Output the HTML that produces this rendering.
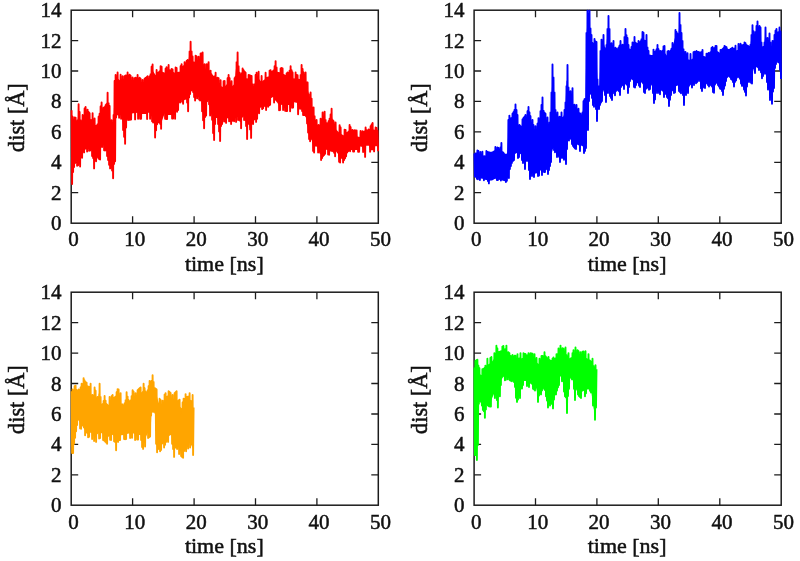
<!DOCTYPE html>
<html lang="en">
<head>
<meta charset="utf-8">
<title>dist vs time</title>
<style>
html,body{margin:0;padding:0;background:#fff;}
body{width:800px;height:561px;overflow:hidden;}
svg{display:block;}
svg text{font-family:"Liberation Serif","Times New Roman",serif;font-size:21px;fill:#111;stroke:#111;stroke-width:0.5px;}
svg text.ax{font-size:22px;}
</style>
</head>
<body>
<svg width="800" height="561" viewBox="0 0 800 561">
<rect width="800" height="561" fill="#fff"/>
<g>
<rect x="71.2" y="10.2" width="307.1" height="213.0" fill="none" stroke="#1c1c1c" stroke-width="1.5"/>
<path d="M71.2 192.7 h7.0 M378.3 192.7 h-7.0 M71.2 162.3 h7.0 M378.3 162.3 h-7.0 M71.2 131.9 h7.0 M378.3 131.9 h-7.0 M71.2 101.4 h7.0 M378.3 101.4 h-7.0 M71.2 71.0 h7.0 M378.3 71.0 h-7.0 M71.2 40.6 h7.0 M378.3 40.6 h-7.0 M132.6 223.2 v-7.0 M132.6 10.2 v7.0 M194.1 223.2 v-7.0 M194.1 10.2 v7.0 M255.5 223.2 v-7.0 M255.5 10.2 v7.0 M316.9 223.2 v-7.0 M316.9 10.2 v7.0" stroke="#1c1c1c" stroke-width="1.3" fill="none"/>
<text x="61.6" y="230.2" text-anchor="end">0</text>
<text x="61.6" y="199.7" text-anchor="end">2</text>
<text x="61.6" y="169.3" text-anchor="end">4</text>
<text x="61.6" y="138.9" text-anchor="end">6</text>
<text x="61.6" y="108.4" text-anchor="end">8</text>
<text x="61.6" y="78.0" text-anchor="end">10</text>
<text x="61.6" y="47.6" text-anchor="end">12</text>
<text x="61.6" y="17.2" text-anchor="end">14</text>
<text x="73.4" y="246.3" text-anchor="middle">0</text>
<text x="134.8" y="246.3" text-anchor="middle">10</text>
<text x="196.3" y="246.3" text-anchor="middle">20</text>
<text x="257.7" y="246.3" text-anchor="middle">30</text>
<text x="319.1" y="246.3" text-anchor="middle">40</text>
<text x="380.5" y="246.3" text-anchor="middle">50</text>
<text transform="translate(224.3 271.2) scale(1.0 1)" class="ax" text-anchor="middle">time [ns]</text>
<text transform="translate(24.1 117.6) rotate(-90) scale(1.06 1.12)" text-anchor="middle">dist [Å]</text>
<polygon points="71.6,113.2 72.6,121.0 73.6,123.0 74.6,123.4 75.6,124.3 76.6,125.8 77.6,120.3 78.6,111.3 79.6,118.2 80.6,126.0 81.6,123.0 82.6,120.0 83.6,117.0 84.6,114.0 85.6,113.6 86.6,114.6 87.6,115.6 88.6,117.5 89.6,119.2 90.6,119.2 91.6,119.2 92.6,120.2 93.6,122.2 94.6,124.2 95.6,127.9 96.6,131.4 97.6,126.4 98.6,121.3 99.6,115.9 100.6,110.6 101.6,109.7 102.6,111.7 103.6,113.7 104.6,112.4 105.6,110.1 106.6,103.1 107.6,101.4 108.6,108.9 109.6,115.1 110.6,120.5 111.6,125.8 112.6,123.6 113.6,117.7 114.6,91.5 115.6,80.4 116.6,79.4 117.6,78.6 118.6,79.3 119.6,80.1 120.6,80.8 121.6,81.6 122.6,82.2 123.6,81.4 124.6,80.7 125.6,79.9 126.6,79.2 127.6,78.6 128.6,79.6 129.6,80.6 130.6,81.6 131.6,82.6 132.6,83.4 133.6,82.9 134.6,82.4 135.6,81.9 136.6,81.4 137.6,81.1 138.6,82.1 139.6,83.1 140.6,84.1 141.6,85.1 142.6,85.9 143.6,85.2 144.6,84.4 145.6,83.7 146.6,82.9 147.6,82.0 148.6,79.7 149.6,77.3 150.6,75.0 151.6,72.6 152.6,70.6 153.6,72.1 154.6,73.6 155.6,75.0 156.6,75.6 157.6,74.6 158.6,73.6 159.6,72.6 160.6,72.6 161.6,73.1 162.6,73.6 163.6,74.1 164.6,74.6 165.6,74.1 166.6,73.1 167.6,72.1 168.6,71.1 169.6,71.3 170.6,71.7 171.6,72.1 172.6,72.5 173.6,72.9 174.6,73.3 175.6,73.4 176.6,73.1 177.6,72.9 178.6,72.7 179.6,72.4 180.6,71.7 181.6,70.7 182.6,69.7 183.6,68.7 184.6,67.8 185.6,67.2 186.6,66.5 187.6,65.2 188.6,59.5 189.6,52.7 190.6,50.0 191.6,56.4 192.6,63.4 193.6,67.0 194.6,64.0 195.6,61.7 196.6,62.1 197.6,62.5 198.6,62.1 199.6,60.6 200.6,59.3 201.6,58.7 202.6,62.1 203.6,68.2 204.6,78.5 205.6,82.1 206.6,71.4 207.6,69.3 208.6,68.3 209.6,72.4 210.6,77.4 211.6,80.5 212.6,81.4 213.6,80.4 214.6,79.4 215.6,79.4 216.6,81.3 217.6,83.2 218.6,84.5 219.6,85.4 220.6,86.2 221.6,86.5 222.6,86.9 223.6,87.2 224.6,86.5 225.6,85.5 226.6,84.5 227.6,83.0 228.6,81.1 229.6,83.1 230.6,85.6 231.6,87.0 232.6,86.0 233.6,85.0 234.6,82.9 235.6,72.2 236.6,62.5 237.6,65.6 238.6,74.1 239.6,77.9 240.6,77.2 241.6,75.2 242.6,75.3 243.6,76.6 244.6,78.0 245.6,79.0 246.6,79.7 247.6,80.4 248.6,80.9 249.6,81.3 250.6,81.6 251.6,82.0 252.6,87.5 253.6,93.0 254.6,87.5 255.6,80.5 256.6,78.4 257.6,77.9 258.6,78.5 259.6,79.8 260.6,81.1 261.6,81.6 262.6,80.9 263.6,80.1 264.6,79.4 265.6,78.7 266.6,78.2 267.6,77.7 268.6,77.2 269.6,76.7 270.6,75.7 271.6,74.7 272.6,73.7 273.6,72.7 274.6,72.6 275.6,73.1 276.6,73.5 277.6,73.8 278.6,74.1 279.6,74.4 280.6,74.8 281.6,75.3 282.6,75.9 283.6,76.4 284.6,76.9 285.6,77.5 286.6,78.0 287.6,78.2 288.6,75.7 289.6,73.2 290.6,73.8 291.6,76.3 292.6,78.5 293.6,78.5 294.6,78.5 295.6,78.8 296.6,79.3 297.6,79.8 298.6,80.3 299.6,80.8 300.6,77.6 301.6,71.9 302.6,74.6 303.6,78.5 304.6,78.5 305.6,80.9 306.6,84.9 307.6,88.9 308.6,92.9 309.6,96.9 310.6,100.9 311.6,104.9 312.6,108.9 313.6,112.9 314.6,117.8 315.6,122.8 316.6,126.7 317.6,128.7 318.6,130.7 319.6,128.2 320.6,124.8 321.6,121.5 322.6,118.8 323.6,121.8 324.6,124.8 325.6,126.2 326.6,126.5 327.6,126.9 328.6,127.2 329.6,123.7 330.6,119.5 331.6,115.4 332.6,120.1 333.6,126.3 334.6,128.1 335.6,129.1 336.6,130.1 337.6,131.1 338.6,132.1 339.6,133.1 340.6,133.8 341.6,134.3 342.6,134.8 343.6,135.3 344.6,135.8 345.6,135.3 346.6,134.1 347.6,132.9 348.6,131.8 349.6,131.5 350.6,133.1 351.6,134.6 352.6,136.0 353.6,136.1 354.6,136.3 355.6,136.4 356.6,136.5 357.6,136.6 358.6,136.8 359.6,136.9 360.6,137.0 361.6,137.1 362.6,137.1 363.6,135.6 364.6,134.1 365.6,133.8 366.6,134.4 367.6,134.9 368.6,135.4 369.6,134.0 370.6,132.3 371.6,130.6 372.6,129.2 373.6,131.0 374.6,132.8 375.6,133.7 376.6,134.1 377.6,134.4 378.1,145.3 377.1,145.3 376.1,145.4 375.1,145.4 374.1,145.5 373.1,145.5 372.1,145.6 371.1,145.6 370.1,145.6 369.1,145.7 368.1,145.7 367.1,145.8 366.1,145.8 365.1,145.9 364.1,145.9 363.1,146.0 362.1,146.0 361.1,145.9 360.1,145.9 359.1,145.8 358.1,145.7 357.1,145.7 356.1,145.6 355.1,145.6 354.1,145.5 353.1,145.4 352.1,145.4 351.1,145.3 350.1,145.3 349.1,146.4 348.1,147.8 347.1,149.1 346.1,150.5 345.1,152.2 344.1,153.8 343.1,155.5 342.1,156.5 341.1,156.5 340.1,156.5 339.1,155.4 338.1,154.1 337.1,152.9 336.1,151.6 335.1,150.4 334.1,150.0 333.1,149.8 332.1,149.5 331.1,149.3 330.1,149.0 329.1,148.8 328.1,148.5 327.1,148.3 326.1,148.0 325.1,147.8 324.1,148.6 323.1,150.3 322.1,152.3 321.1,153.7 320.1,151.7 319.1,149.7 318.1,147.7 317.1,146.5 316.1,146.5 315.1,146.5 314.1,146.5 313.1,144.6 312.1,141.6 311.1,138.6 310.1,135.6 309.1,132.1 308.1,128.6 307.1,123.7 306.1,116.7 305.1,109.7 304.1,109.0 303.1,109.0 302.1,108.0 301.1,105.5 300.1,103.0 299.1,102.6 298.1,102.4 297.1,102.3 296.1,102.1 295.1,101.9 294.1,101.8 293.1,101.6 292.1,102.1 291.1,103.6 290.1,105.1 289.1,105.1 288.1,104.9 287.1,104.8 286.1,104.6 285.1,104.4 284.1,104.3 283.1,104.1 282.1,104.0 281.1,104.1 280.1,104.1 279.1,103.0 278.1,101.8 277.1,100.5 276.1,99.3 275.1,98.0 274.1,96.8 273.1,97.1 272.1,97.6 271.1,98.1 270.1,98.6 269.1,99.6 268.1,100.8 267.1,102.1 266.1,103.3 265.1,104.0 264.1,103.7 263.1,103.3 262.1,103.3 261.1,104.6 260.1,105.9 259.1,107.3 258.1,109.9 257.1,112.6 256.1,115.2 255.1,116.4 254.1,117.1 253.1,117.7 252.1,121.6 251.1,128.1 250.1,129.2 249.1,122.7 248.1,120.8 247.1,130.8 246.1,124.2 245.1,113.6 244.1,111.6 243.1,109.6 242.1,115.1 241.1,121.1 240.1,119.1 239.1,115.1 238.1,114.2 237.1,114.9 236.1,115.5 235.1,116.1 234.1,116.6 233.1,117.1 232.1,117.6 231.1,118.0 230.1,117.8 229.1,117.6 228.1,117.4 227.1,117.2 226.1,117.0 225.1,117.2 224.1,117.4 223.1,117.7 222.1,117.9 221.1,124.5 220.1,134.5 219.1,126.5 218.1,118.5 217.1,118.0 216.1,118.0 215.1,119.5 214.1,128.9 213.1,128.0 212.1,114.4 211.1,111.8 210.1,109.8 209.1,103.0 208.1,95.0 207.1,97.8 206.1,105.8 205.1,113.5 204.1,121.0 203.1,114.9 202.1,106.0 201.1,99.5 200.1,94.4 199.1,93.7 198.1,93.0 197.1,92.4 196.1,93.4 195.1,94.4 194.1,91.1 193.1,87.1 192.1,86.4 191.1,87.1 190.1,87.8 189.1,94.0 188.1,105.1 187.1,100.1 186.1,96.8 185.1,97.1 184.1,97.4 183.1,97.7 182.1,97.3 181.1,97.0 180.1,96.7 179.1,99.3 178.1,102.2 177.1,105.4 176.1,108.9 175.1,112.4 174.1,112.8 173.1,112.8 172.1,112.8 171.1,112.8 170.1,112.8 169.1,112.8 168.1,112.8 167.1,112.8 166.1,112.8 165.1,112.8 164.1,115.1 163.1,117.8 162.1,120.5 161.1,122.5 160.1,120.8 159.1,119.2 158.1,117.5 157.1,118.9 156.1,124.9 155.1,130.9 154.1,124.8 153.1,117.3 152.1,115.4 151.1,114.1 150.1,112.9 149.1,112.8 148.1,112.8 147.1,112.8 146.1,112.8 145.1,112.8 144.1,112.8 143.1,112.8 142.1,112.8 141.1,112.8 140.1,112.8 139.1,112.8 138.1,112.8 137.1,112.8 136.1,112.9 135.1,113.0 134.1,113.2 133.1,113.3 132.1,113.4 131.1,113.5 130.1,113.7 129.1,113.8 128.1,113.9 127.1,117.8 126.1,127.3 125.1,136.8 124.1,131.8 123.1,125.1 122.1,118.4 121.1,112.7 120.1,112.5 119.1,112.2 118.1,112.0 117.1,111.7 116.1,113.4 115.1,134.4 114.1,157.8 113.1,167.3 112.1,170.5 111.1,166.8 110.1,163.1 109.1,158.6 108.1,154.0 107.1,149.7 106.1,147.7 105.1,145.7 104.1,144.0 103.1,142.7 102.1,141.3 101.1,146.6 100.1,153.5 99.1,152.8 98.1,152.2 97.1,152.4 96.1,154.4 95.1,157.5 94.1,161.5 93.1,157.1 92.1,150.1 91.1,148.0 90.1,146.0 89.1,144.7 88.1,145.0 87.1,145.4 86.1,145.7 85.1,146.0 84.1,146.4 83.1,148.3 82.1,150.3 81.1,153.2 80.1,158.2 79.1,160.5 78.1,160.1 77.1,159.8 76.1,158.9 75.1,157.8 74.1,159.5 73.1,167.0 72.1,178.1" fill="#ff0000"/>
<path d="M71.6 110.2 L72.1 184.1 L72.6 116.7 L73.1 172.0 L73.6 120.0 L74.1 167.0 L74.6 117.5 L75.1 163.1 L75.6 117.6 L76.1 145.2 L76.6 125.4 L77.1 165.8 L77.6 120.3 L78.1 165.2 L78.6 104.3 L79.1 163.5 L79.6 112.0 L80.1 166.6 L80.6 120.3 L81.1 156.2 L81.6 122.6 L82.1 157.7 L82.6 115.0 L83.1 150.7 L83.6 116.6 L84.1 152.4 L84.6 108.4 L85.1 148.8 L85.6 106.9 L86.1 148.4 L86.6 121.7 L87.1 151.5 L87.6 109.6 L88.1 147.8 L88.6 112.0 L89.1 150.7 L89.6 113.2 L90.1 150.6 L90.6 120.3 L91.1 149.0 L91.6 120.3 L92.1 156.0 L92.6 113.2 L93.1 158.0 L93.6 123.4 L94.1 168.4 L94.6 118.5 L95.1 159.0 L95.6 125.7 L96.1 161.3 L96.6 125.7 L97.1 154.0 L97.6 124.2 L98.1 157.7 L98.6 116.7 L99.1 159.0 L99.6 113.8 L100.1 159.5 L100.6 106.4 L101.1 144.0 L101.6 102.5 L102.1 147.0 L102.6 115.4 L103.1 140.1 L103.6 107.8 L104.1 150.3 L104.6 107.3 L105.1 150.6 L105.6 105.2 L106.1 150.1 L106.6 104.0 L107.1 156.0 L107.6 92.7 L108.1 160.1 L108.6 103.2 L109.1 164.8 L109.6 106.0 L110.1 168.4 L110.6 121.6 L111.1 166.8 L111.6 120.3 L112.1 170.5 L112.6 124.7 L113.1 178.2 L113.6 115.0 L114.1 163.9 L114.6 81.0 L115.1 161.3 L115.6 75.0 L116.1 117.5 L116.6 84.9 L117.1 114.4 L117.6 72.5 L118.1 114.6 L118.6 84.8 L119.1 117.7 L119.6 85.5 L120.1 106.0 L120.6 74.7 L121.1 118.8 L121.6 80.5 L122.1 111.9 L122.6 76.2 L123.1 130.0 L123.6 80.4 L124.1 136.7 L124.6 76.2 L125.1 143.8 L125.6 75.4 L126.1 127.5 L126.6 75.7 L127.1 118.0 L127.6 72.5 L128.1 120.0 L128.6 76.1 L129.1 119.8 L129.6 74.7 L130.1 119.7 L130.6 75.7 L131.1 119.5 L131.6 82.3 L132.1 109.2 L132.6 77.5 L133.1 109.1 L133.6 82.6 L134.1 109.0 L134.6 78.3 L135.1 119.4 L135.6 77.8 L136.1 110.0 L136.6 78.6 L137.1 109.8 L137.6 75.0 L138.1 118.8 L138.6 79.3 L139.1 109.8 L139.6 77.7 L140.1 118.7 L140.6 78.7 L141.1 118.7 L141.6 87.1 L142.1 113.0 L142.6 80.0 L143.1 113.0 L143.6 87.2 L144.1 113.0 L144.6 78.7 L145.1 113.0 L145.6 78.0 L146.1 113.0 L146.6 77.2 L147.1 119.0 L147.6 76.2 L148.1 108.8 L148.6 78.9 L149.1 108.8 L149.6 76.5 L150.1 118.8 L150.6 74.2 L151.1 110.2 L151.6 66.7 L152.1 121.3 L152.6 64.5 L153.1 122.5 L153.6 78.1 L154.1 118.2 L154.6 79.6 L155.1 137.5 L155.6 81.0 L156.1 130.2 L156.6 70.0 L157.1 124.2 L157.6 73.5 L158.1 122.5 L158.6 72.5 L159.1 122.1 L159.6 71.5 L160.1 123.8 L160.6 66.2 L161.1 128.8 L161.6 66.7 L162.1 115.8 L162.6 72.8 L163.1 113.2 L163.6 73.3 L164.1 110.5 L164.6 73.8 L165.1 118.8 L165.6 68.8 L166.1 119.1 L166.6 67.1 L167.1 119.1 L167.6 71.2 L168.1 114.1 L168.6 65.0 L169.1 114.1 L169.6 70.3 L170.1 114.1 L170.6 70.7 L171.1 114.1 L171.6 69.0 L172.1 118.6 L172.6 69.4 L173.1 118.6 L173.6 73.3 L174.1 102.6 L174.6 73.7 L175.1 118.8 L175.6 67.5 L176.1 98.8 L176.6 68.0 L177.1 111.7 L177.6 72.9 L178.1 110.0 L178.6 72.7 L179.1 100.8 L179.6 72.4 L180.1 102.6 L180.6 66.3 L181.1 98.5 L181.6 64.2 L182.1 101.8 L182.6 67.2 L183.1 103.7 L183.6 66.2 L184.1 99.2 L184.6 62.1 L185.1 98.9 L185.6 64.6 L186.1 98.5 L186.6 61.0 L187.1 102.6 L187.6 59.9 L188.1 111.2 L188.6 65.5 L189.1 97.4 L189.6 51.4 L190.1 94.1 L190.6 41.8 L191.1 90.5 L191.6 51.4 L192.1 89.8 L192.6 56.5 L193.1 92.0 L193.6 62.1 L194.1 97.0 L194.6 63.5 L195.1 100.5 L195.6 55.6 L196.1 95.8 L196.6 56.4 L197.1 98.4 L197.6 64.4 L198.1 95.5 L198.6 56.7 L199.1 99.6 L199.6 62.5 L200.1 100.5 L200.6 53.5 L201.1 94.5 L201.6 53.5 L202.1 111.2 L202.6 52.4 L203.1 120.2 L203.6 68.7 L204.1 128.3 L204.6 64.2 L205.1 117.0 L205.6 80.2 L206.1 115.5 L206.6 64.2 L207.1 101.3 L207.6 64.7 L208.1 98.4 L208.6 62.1 L209.1 104.3 L209.6 73.4 L210.1 115.5 L210.6 70.6 L211.1 113.2 L211.6 74.5 L212.1 119.7 L212.6 75.9 L213.1 133.1 L213.6 77.5 L214.1 140.0 L214.6 76.5 L215.1 124.0 L215.6 72.7 L216.1 115.7 L216.6 78.5 L217.1 115.7 L217.6 77.8 L218.1 124.0 L218.6 78.1 L219.1 131.4 L219.6 86.2 L220.1 141.1 L220.6 80.2 L221.1 126.0 L221.6 87.4 L222.1 124.0 L222.6 87.7 L223.1 119.2 L223.6 81.3 L224.1 121.6 L224.6 80.9 L225.1 121.3 L225.6 90.0 L226.1 122.9 L226.6 89.0 L227.1 117.4 L227.6 78.1 L228.1 117.6 L228.6 74.9 L229.1 121.3 L229.6 78.1 L230.1 121.0 L230.6 86.9 L231.1 124.0 L231.6 81.3 L232.1 120.9 L232.6 87.3 L233.1 120.4 L233.6 86.3 L234.1 121.3 L234.6 78.1 L235.1 117.2 L235.6 76.6 L236.1 121.9 L236.6 62.1 L237.1 116.0 L237.6 52.4 L238.1 120.0 L238.6 66.3 L239.1 119.7 L239.6 72.7 L240.1 120.7 L240.6 75.5 L241.1 128.3 L241.6 73.5 L242.1 116.7 L242.6 68.5 L243.1 115.5 L243.6 70.3 L244.1 120.0 L244.6 71.6 L245.1 119.7 L245.6 72.7 L246.1 126.1 L246.6 79.1 L247.1 139.0 L247.6 79.7 L248.1 122.7 L248.6 74.9 L249.1 124.0 L249.6 75.3 L250.1 129.4 L250.6 75.6 L251.1 137.9 L251.6 75.9 L252.1 121.7 L252.6 84.1 L253.1 124.0 L253.6 87.7 L254.1 119.5 L254.6 84.1 L255.1 118.9 L255.6 74.9 L256.1 121.9 L256.6 72.7 L257.1 118.7 L257.6 82.7 L258.1 110.8 L258.6 71.7 L259.1 113.3 L259.6 84.7 L260.1 106.9 L260.6 86.0 L261.1 105.7 L261.6 75.9 L262.1 109.1 L262.6 91.3 L263.1 108.2 L263.6 91.0 L264.1 105.7 L264.6 90.6 L265.1 106.0 L265.6 72.7 L266.1 110.1 L266.6 78.3 L267.1 104.1 L267.6 77.8 L268.1 106.7 L268.6 77.1 L269.1 105.4 L269.6 70.6 L270.1 104.8 L270.6 70.3 L271.1 96.5 L271.6 72.4 L272.1 95.9 L272.6 71.4 L273.1 95.3 L273.6 70.5 L274.1 102.6 L274.6 66.3 L275.1 98.8 L275.6 61.1 L276.1 100.1 L276.6 67.4 L277.1 101.3 L277.6 72.7 L278.1 102.6 L278.6 73.0 L279.1 110.2 L279.6 73.3 L280.1 110.1 L280.6 68.5 L281.1 104.0 L281.6 68.0 L282.1 103.9 L282.6 68.5 L283.1 110.0 L283.6 74.9 L284.1 104.2 L284.6 75.4 L285.1 110.8 L285.6 75.9 L286.1 111.0 L286.6 73.4 L287.1 111.1 L287.6 72.5 L288.1 101.9 L288.6 73.1 L289.1 102.1 L289.6 70.6 L290.1 111.2 L290.6 66.2 L291.1 100.6 L291.6 70.3 L292.1 107.8 L292.6 72.5 L293.1 107.5 L293.6 79.4 L294.1 101.3 L294.6 79.4 L295.1 101.5 L295.6 72.5 L296.1 101.7 L296.6 74.9 L297.1 101.9 L297.6 75.3 L298.1 114.2 L298.6 79.8 L299.1 105.9 L299.6 80.2 L300.1 108.8 L300.6 75.0 L301.1 108.6 L301.6 65.0 L302.1 111.1 L302.6 68.9 L303.1 115.0 L303.6 72.5 L304.1 115.0 L304.6 75.7 L305.1 115.0 L305.6 72.5 L306.1 116.4 L306.6 82.1 L307.1 123.4 L307.6 82.5 L308.1 132.5 L308.6 94.1 L309.1 139.0 L309.6 98.1 L310.1 141.2 L310.6 92.5 L311.1 136.1 L311.6 98.6 L312.1 139.1 L312.6 107.4 L313.1 150.9 L313.6 107.5 L314.1 152.5 L314.6 116.2 L315.1 144.4 L315.6 121.2 L316.1 145.1 L316.6 120.0 L317.1 145.6 L317.6 127.5 L318.1 152.5 L318.6 125.0 L319.1 151.3 L319.6 127.7 L320.1 152.7 L320.6 118.6 L321.1 160.0 L321.6 122.2 L322.1 158.1 L322.6 112.5 L323.1 156.1 L323.6 122.5 L324.1 155.0 L324.6 111.6 L325.1 153.8 L325.6 120.0 L326.1 148.9 L326.6 123.2 L327.1 149.1 L327.6 123.5 L328.1 154.4 L328.6 121.2 L329.1 154.7 L329.6 118.6 L330.1 150.4 L330.6 114.4 L331.1 150.7 L331.6 108.8 L332.1 150.9 L332.6 119.9 L333.1 151.2 L333.6 121.2 L334.1 152.8 L334.6 127.6 L335.1 156.2 L335.6 122.5 L336.1 148.9 L336.6 136.2 L337.1 150.1 L337.6 137.2 L338.1 151.3 L338.6 138.3 L339.1 161.7 L339.6 125.1 L340.1 162.5 L340.6 127.5 L341.1 157.8 L341.6 139.6 L342.1 157.9 L342.6 139.9 L343.1 162.5 L343.6 139.7 L344.1 160.0 L344.6 129.6 L345.1 158.3 L345.6 130.0 L346.1 156.2 L346.6 133.8 L347.1 152.5 L347.6 132.6 L348.1 151.2 L348.6 131.4 L349.1 149.9 L349.6 125.0 L350.1 151.2 L350.6 127.1 L351.1 149.1 L351.6 130.4 L352.1 149.3 L352.6 130.0 L353.1 151.5 L353.6 131.8 L354.1 151.6 L354.6 130.3 L355.1 149.0 L355.6 130.4 L356.1 149.1 L356.6 130.5 L357.1 149.1 L357.6 138.4 L358.1 151.7 L358.6 138.5 L359.1 151.8 L359.6 138.6 L360.1 145.6 L360.6 130.9 L361.1 145.7 L361.6 134.0 L362.1 145.8 L362.6 131.2 L363.1 152.0 L363.6 132.7 L364.1 145.0 L364.6 131.4 L365.1 156.9 L365.6 127.5 L366.1 141.4 L366.6 130.3 L367.1 141.6 L367.6 130.8 L368.1 141.8 L368.6 129.5 L369.1 141.7 L369.6 130.0 L370.1 151.7 L370.6 126.2 L371.1 149.4 L371.6 124.4 L372.1 149.2 L372.6 123.0 L373.1 149.2 L373.6 130.2 L374.1 151.4 L374.6 131.7 L375.1 145.3 L375.6 127.5 L376.1 145.3 L376.6 127.9 L377.1 145.4 L377.6 130.8 L378.1 151.3" fill="none" stroke="#ff0000" stroke-width="1.9" stroke-linejoin="round"/>
</g>
<g>
<rect x="474.1" y="10.2" width="307.1" height="213.0" fill="none" stroke="#1c1c1c" stroke-width="1.5"/>
<path d="M474.1 192.7 h7.0 M781.2 192.7 h-7.0 M474.1 162.3 h7.0 M781.2 162.3 h-7.0 M474.1 131.9 h7.0 M781.2 131.9 h-7.0 M474.1 101.4 h7.0 M781.2 101.4 h-7.0 M474.1 71.0 h7.0 M781.2 71.0 h-7.0 M474.1 40.6 h7.0 M781.2 40.6 h-7.0 M535.5 223.2 v-7.0 M535.5 10.2 v7.0 M596.9 223.2 v-7.0 M596.9 10.2 v7.0 M658.3 223.2 v-7.0 M658.3 10.2 v7.0 M719.8 223.2 v-7.0 M719.8 10.2 v7.0" stroke="#1c1c1c" stroke-width="1.3" fill="none"/>
<text x="464.4" y="230.2" text-anchor="end">0</text>
<text x="464.4" y="199.7" text-anchor="end">2</text>
<text x="464.4" y="169.3" text-anchor="end">4</text>
<text x="464.4" y="138.9" text-anchor="end">6</text>
<text x="464.4" y="108.4" text-anchor="end">8</text>
<text x="464.4" y="78.0" text-anchor="end">10</text>
<text x="464.4" y="47.6" text-anchor="end">12</text>
<text x="464.4" y="17.2" text-anchor="end">14</text>
<text x="476.2" y="246.3" text-anchor="middle">0</text>
<text x="537.7" y="246.3" text-anchor="middle">10</text>
<text x="599.1" y="246.3" text-anchor="middle">20</text>
<text x="660.5" y="246.3" text-anchor="middle">30</text>
<text x="722.0" y="246.3" text-anchor="middle">40</text>
<text x="783.4" y="246.3" text-anchor="middle">50</text>
<text transform="translate(627.1 271.2) scale(1.0 1)" class="ax" text-anchor="middle">time [ns]</text>
<text transform="translate(426.9 117.6) rotate(-90) scale(1.06 1.12)" text-anchor="middle">dist [Å]</text>
<polygon points="474.4,157.0 475.4,157.0 476.4,157.0 477.4,157.0 478.4,157.2 479.4,157.7 480.4,157.9 481.4,157.8 482.4,157.6 483.4,157.4 484.4,157.3 485.4,157.1 486.4,157.1 487.4,157.2 488.4,157.3 489.4,157.5 490.4,157.6 491.4,157.8 492.4,157.9 493.4,156.9 494.4,154.4 495.4,153.2 496.4,153.5 497.4,153.8 498.4,154.6 499.4,155.8 500.4,151.8 501.4,151.9 502.4,158.0 503.4,158.5 504.4,158.9 505.4,159.3 506.4,159.8 507.4,150.4 508.4,129.2 509.4,121.6 510.4,121.0 511.4,120.4 512.5,119.8 513.5,116.9 514.5,112.8 515.5,112.4 516.5,117.0 517.5,122.3 518.5,129.0 519.5,131.5 520.5,132.1 521.5,129.2 522.5,125.6 523.5,124.0 524.5,122.6 525.5,121.2 526.5,118.5 527.5,115.2 528.5,114.3 529.5,119.0 530.5,123.2 531.5,125.2 532.5,128.3 533.5,131.2 534.5,131.7 535.5,132.2 536.5,131.1 537.5,129.8 538.5,124.5 539.5,118.9 540.5,113.4 541.5,106.7 542.5,108.4 543.5,116.8 544.5,118.7 545.5,120.4 546.5,121.9 547.5,123.4 548.5,126.0 549.5,127.9 550.5,119.9 551.5,99.6 552.5,71.7 553.5,87.5 554.5,109.0 555.5,116.8 556.5,118.0 557.5,119.4 558.5,121.0 559.5,122.6 560.5,121.7 561.5,118.3 562.5,117.3 563.5,116.3 564.5,112.5 565.5,104.2 566.5,81.3 567.5,79.2 568.5,92.8 569.5,98.4 570.5,97.4 571.5,95.2 572.5,100.3 573.5,110.5 574.5,111.0 575.5,111.0 576.5,111.4 577.5,113.4 578.5,115.6 579.5,118.3 580.5,119.4 581.5,118.8 582.5,113.3 583.5,106.8 584.5,105.5 585.5,99.1 586.5,37.6 587.5,16.6 588.5,16.6 589.5,20.0 590.5,33.5 591.5,41.5 592.5,42.7 593.5,43.9 594.5,45.1 595.5,46.6 596.5,51.1 597.5,85.4 598.5,85.4 599.5,85.4 600.5,56.7 601.5,50.5 602.5,44.4 603.5,42.5 604.5,45.8 605.5,49.2 606.5,45.0 607.5,30.9 608.5,27.9 609.5,42.2 610.5,50.4 611.5,49.1 612.5,47.7 613.5,48.2 614.5,50.9 615.5,53.5 616.5,54.1 617.5,52.1 618.5,50.1 619.5,48.1 620.5,47.6 621.5,48.9 622.5,50.3 623.5,48.7 624.5,43.7 625.5,36.2 626.5,41.4 627.5,47.8 628.5,51.3 629.5,52.0 630.5,52.6 631.5,51.5 632.5,48.2 633.5,44.8 634.5,43.5 635.5,44.5 636.5,45.5 637.5,46.5 638.5,46.0 639.5,43.7 640.5,41.5 641.5,39.2 642.5,38.3 643.5,39.1 644.5,39.8 645.5,40.6 646.5,44.6 647.5,52.6 648.5,57.1 649.5,57.2 650.5,57.4 651.5,57.6 652.5,57.7 653.5,57.9 654.5,57.1 655.5,55.0 656.5,53.0 657.5,51.1 658.5,53.4 659.5,55.7 660.5,56.4 661.5,55.2 662.5,53.9 663.5,52.7 664.5,52.6 665.5,53.8 666.5,55.1 667.5,56.3 668.5,56.1 669.5,54.1 670.5,52.1 671.5,50.1 672.5,47.3 673.5,43.5 674.5,39.6 675.5,36.1 676.5,38.0 677.5,39.9 678.5,34.2 679.5,20.9 680.5,29.2 681.5,40.7 682.5,48.7 683.5,52.3 684.5,56.0 685.5,58.2 686.5,58.6 687.5,59.0 688.5,59.4 689.5,59.8 690.5,59.8 691.5,59.3 692.5,58.8 693.5,58.3 694.5,57.8 695.5,57.3 696.5,56.9 697.5,56.8 698.5,56.6 699.5,56.4 700.5,56.3 701.5,56.1 702.5,56.2 703.5,56.7 704.5,57.2 705.5,57.7 706.5,58.2 707.5,58.7 708.5,58.3 709.5,56.8 710.5,55.3 711.5,53.8 712.5,52.9 713.5,52.6 714.5,52.4 715.5,52.1 716.5,52.5 717.5,53.5 718.5,54.5 719.5,55.5 720.5,55.5 721.5,54.5 722.5,53.5 723.5,52.5 724.5,52.2 725.5,52.7 726.5,53.2 727.5,53.7 728.5,54.2 729.5,54.7 730.5,54.8 731.5,54.3 732.5,53.8 733.5,53.2 734.5,52.5 735.5,51.9 736.5,51.3 737.5,50.7 738.5,50.0 739.5,49.8 740.5,49.5 741.5,49.3 742.5,49.0 743.5,48.8 744.5,48.5 745.5,48.9 746.5,49.3 747.5,49.8 748.5,50.2 749.5,50.6 750.5,44.2 751.5,35.7 752.5,33.1 753.5,37.1 754.5,37.7 755.5,36.2 756.5,32.2 757.5,27.9 758.5,30.5 759.5,32.6 760.5,36.0 761.5,48.5 762.5,54.2 763.5,49.7 764.5,42.2 765.5,33.9 766.5,41.8 767.5,50.4 768.5,47.0 769.5,40.1 770.5,47.2 771.5,54.2 772.5,47.7 773.5,42.5 774.5,39.1 775.5,36.5 776.5,34.8 777.5,34.3 778.5,33.8 779.5,34.8 780.5,37.8 781.0,73.0 780.0,69.0 779.0,61.6 778.0,56.7 777.0,57.4 776.0,58.5 775.0,69.2 774.0,79.9 773.0,87.6 772.0,94.6 771.0,96.8 770.0,95.2 769.0,91.6 768.0,83.6 767.0,75.8 766.0,72.2 765.0,68.5 764.0,68.9 763.0,70.4 762.0,71.9 761.0,70.1 760.0,67.3 759.0,64.6 758.0,62.7 757.0,61.0 756.0,61.9 755.0,64.9 754.0,68.0 753.0,71.5 752.0,75.0 751.0,77.4 750.0,76.9 749.0,76.4 748.0,76.9 747.0,79.9 746.0,85.3 745.0,88.3 744.0,84.3 743.0,81.9 742.0,79.9 741.0,77.9 740.0,76.2 739.0,74.6 738.0,73.0 737.0,71.6 736.0,74.6 735.0,77.6 734.0,80.4 733.0,77.9 732.0,75.4 731.0,72.9 730.0,71.0 729.0,72.0 728.0,73.0 727.0,74.0 726.0,75.2 725.0,79.9 724.0,84.6 723.0,88.9 722.0,86.9 721.0,84.9 720.0,82.9 719.0,80.9 718.0,79.1 717.0,80.5 716.0,81.9 715.0,83.3 714.0,84.7 713.0,85.9 712.0,84.5 711.0,83.1 710.0,81.7 709.0,80.3 708.0,79.0 707.0,80.0 706.0,81.0 705.0,82.0 704.0,83.0 703.0,84.0 702.0,84.9 701.0,82.4 700.0,79.9 699.0,77.4 698.0,75.0 697.0,76.0 696.0,77.0 695.0,78.0 694.0,79.1 693.0,80.4 692.0,81.7 691.0,83.1 690.0,84.4 689.0,85.7 688.0,87.0 687.0,87.9 686.0,88.7 685.0,93.1 684.0,98.7 683.0,92.4 682.0,88.5 681.0,87.3 680.0,86.1 679.0,85.0 678.0,85.4 677.0,85.8 676.0,86.2 675.0,86.6 674.0,87.0 673.0,87.7 672.0,88.4 671.0,89.3 670.0,94.8 669.0,99.8 668.0,95.3 667.0,91.0 666.0,91.0 665.0,91.0 664.0,91.0 663.0,90.3 662.0,89.6 661.0,89.0 660.0,88.3 659.0,87.6 658.0,87.0 657.0,87.0 656.0,87.0 655.0,91.1 654.0,96.7 653.0,90.4 652.0,86.3 651.0,84.6 650.0,83.0 649.0,83.8 648.0,84.6 647.0,85.4 646.0,86.2 645.0,86.9 644.0,85.7 643.0,84.5 642.0,83.3 641.0,82.1 640.0,81.0 639.0,80.5 638.0,80.0 637.0,79.5 636.0,79.0 635.0,78.3 634.0,77.6 633.0,77.0 632.0,76.3 631.0,75.6 630.0,75.3 629.0,81.3 628.0,87.0 627.0,86.0 626.0,85.0 625.0,84.0 624.0,83.1 623.0,84.6 622.0,86.1 621.0,87.6 620.0,89.0 619.0,88.0 618.0,87.0 617.0,86.0 616.0,85.1 615.0,87.4 614.0,89.6 613.0,91.9 612.0,93.9 611.0,92.2 610.0,90.4 609.0,88.7 608.0,87.2 607.0,91.7 606.0,95.8 605.0,91.4 604.0,90.1 603.0,92.6 602.0,95.1 601.0,97.3 600.0,99.6 599.0,101.8 598.0,106.9 597.0,114.6 596.0,106.0 595.0,102.0 594.0,100.5 593.0,98.8 592.0,94.8 591.0,90.8 590.0,87.2 589.0,92.2 588.0,111.3 587.0,131.3 586.0,142.1 585.0,144.6 584.0,147.0 583.0,146.5 582.0,146.0 581.0,145.5 580.0,145.0 579.0,144.5 578.0,144.0 577.0,143.5 576.0,142.9 575.0,141.7 574.0,140.4 573.0,139.2 572.0,138.0 571.0,137.0 570.0,136.0 569.0,135.0 568.0,134.6 567.0,146.6 566.0,157.9 565.0,155.9 564.0,153.9 563.0,152.1 562.0,153.4 561.0,154.7 560.0,155.9 559.0,154.3 558.0,152.6 557.0,150.9 556.0,148.6 555.0,146.2 554.0,144.2 553.0,148.2 552.0,152.2 551.0,156.2 550.0,160.2 549.0,164.2 548.0,168.0 547.0,167.3 546.0,166.6 545.0,166.0 544.0,167.0 543.0,168.0 542.0,169.0 541.0,169.3 540.0,169.5 539.0,169.8 538.0,170.0 537.0,170.3 536.0,170.5 535.0,170.8 534.0,171.0 533.0,170.5 532.0,170.1 531.0,171.6 530.0,172.7 529.0,166.3 528.0,160.3 527.0,155.2 526.0,159.2 525.0,162.9 524.0,159.9 523.0,156.9 522.0,154.0 521.0,153.5 520.0,153.0 519.0,152.5 518.0,152.0 517.0,152.5 516.0,153.0 515.0,153.5 514.0,154.1 513.0,156.1 511.9,158.1 510.9,160.3 509.9,166.3 508.9,172.1 507.9,173.4 506.9,174.7 505.9,176.0 504.9,175.7 503.9,175.5 502.9,175.2 501.9,175.0 500.9,174.7 499.9,174.5 498.9,174.2 497.9,174.0 496.9,174.1 495.9,174.2 494.9,174.3 493.9,174.4 492.9,174.5 491.9,174.6 490.9,174.7 489.9,174.8 488.9,174.9 487.9,175.0 486.9,174.9 485.9,174.7 484.9,174.6 483.9,174.5 482.9,174.4 481.9,174.2 480.9,174.1 479.9,174.0 478.9,173.6 477.9,173.3 476.9,172.9 475.9,172.6 474.9,172.2" fill="#0000ff"/>
<path d="M474.4 153.5 L474.9 176.5 L475.4 153.5 L475.9 176.9 L476.4 153.5 L476.9 178.8 L477.4 150.4 L477.9 179.2 L478.4 151.0 L478.9 177.2 L479.4 155.2 L479.9 180.0 L480.4 152.0 L480.9 177.6 L481.4 155.3 L481.9 177.7 L482.4 151.7 L482.9 177.8 L483.4 156.4 L483.9 180.3 L484.4 156.3 L484.9 178.8 L485.4 156.1 L485.9 179.0 L486.4 151.0 L486.9 179.1 L487.4 152.0 L487.9 181.0 L488.4 152.1 L488.9 183.4 L489.4 152.5 L489.9 179.7 L490.4 152.7 L490.9 179.6 L491.4 152.8 L491.9 179.5 L492.4 152.4 L492.9 179.1 L493.4 152.0 L493.9 178.3 L494.4 151.1 L494.9 178.0 L495.4 147.0 L495.9 177.9 L496.4 150.3 L496.9 180.1 L497.4 147.5 L497.9 180.0 L498.4 148.0 L498.9 178.8 L499.4 150.0 L499.9 179.0 L500.4 147.5 L500.9 180.5 L501.4 143.0 L501.9 179.3 L502.4 152.0 L502.9 179.7 L503.4 152.6 L503.9 180.0 L504.4 154.3 L504.9 180.3 L505.4 154.7 L505.9 182.0 L506.4 155.1 L506.9 180.8 L507.4 154.0 L507.9 177.4 L508.4 120.0 L508.9 178.0 L509.4 115.6 L509.9 169.1 L510.4 118.7 L510.9 166.0 L511.4 118.1 L511.9 162.9 L512.5 113.8 L513.0 160.9 L513.5 112.3 L514.0 160.0 L514.5 110.0 L515.0 152.9 L515.5 104.4 L516.0 152.4 L516.5 110.0 L517.0 151.9 L517.5 115.0 L518.0 158.0 L518.5 130.1 L519.0 157.0 L519.5 125.0 L520.0 152.9 L520.5 126.2 L521.0 153.2 L521.5 129.3 L522.0 160.0 L522.5 119.4 L523.0 163.0 L523.5 118.0 L524.0 157.8 L524.5 116.6 L525.0 169.0 L525.5 115.0 L526.0 157.1 L526.5 121.2 L527.0 161.0 L527.5 111.2 L528.0 158.3 L528.5 106.9 L529.0 170.0 L529.5 112.5 L530.0 179.0 L530.5 116.2 L531.0 171.2 L531.5 124.8 L532.0 176.0 L532.5 120.0 L533.0 170.1 L533.5 125.0 L534.0 177.0 L534.5 139.8 L535.0 172.8 L535.5 126.2 L536.0 172.6 L536.5 139.3 L537.0 172.3 L537.5 123.8 L538.0 176.0 L538.5 118.2 L539.0 175.6 L539.5 136.3 L540.0 169.7 L540.5 111.2 L541.0 169.4 L541.5 105.0 L542.0 175.0 L542.5 97.5 L543.0 168.2 L543.5 110.6 L544.0 172.0 L544.5 112.8 L545.0 172.0 L545.5 113.8 L546.0 168.6 L546.5 122.0 L547.0 169.3 L547.5 117.5 L548.0 174.0 L548.5 126.1 L549.0 170.0 L549.5 122.5 L550.0 166.0 L550.5 112.5 L551.0 162.0 L551.5 92.5 L552.0 148.2 L552.5 64.4 L553.0 144.2 L553.5 77.5 L554.0 150.0 L554.5 92.5 L555.0 152.2 L555.5 110.0 L556.0 151.1 L556.5 115.3 L557.0 157.0 L557.5 112.5 L558.0 155.1 L558.5 118.3 L559.0 156.8 L559.5 116.8 L560.0 162.0 L560.5 117.5 L561.0 158.1 L561.5 112.5 L562.0 156.7 L562.5 118.4 L563.0 158.0 L563.5 117.4 L564.0 159.7 L564.5 110.0 L565.0 158.4 L565.5 102.5 L566.0 164.0 L566.5 86.2 L567.0 149.1 L567.5 65.0 L568.0 140.0 L568.5 87.5 L569.0 140.6 L569.5 92.5 L570.0 137.9 L570.5 91.2 L571.0 138.9 L571.5 98.7 L572.0 144.0 L572.5 88.1 L573.0 145.9 L573.5 105.0 L574.0 147.2 L574.5 104.7 L575.0 148.4 L575.5 108.4 L576.0 149.0 L576.5 105.0 L577.0 143.5 L577.5 110.8 L578.0 144.0 L578.5 108.8 L579.0 144.5 L579.5 113.1 L580.0 151.0 L580.5 113.8 L581.0 140.6 L581.5 120.8 L582.0 141.1 L582.5 112.5 L583.0 141.6 L583.5 101.2 L584.0 153.0 L584.5 99.1 L585.0 150.9 L585.5 98.8 L586.0 148.0 L586.5 33.0 L587.0 128.6 L587.5 10.6 L588.0 130.0 L588.5 14.1 L589.0 101.0 L589.5 10.6 L590.0 93.0 L590.5 28.4 L591.0 93.9 L591.5 35.0 L592.0 97.9 L592.5 42.9 L593.0 105.0 L593.5 44.1 L594.0 106.7 L594.5 39.0 L595.0 103.1 L595.5 41.4 L596.0 109.0 L596.5 42.0 L597.0 121.0 L597.5 79.4 L598.0 108.3 L598.5 96.3 L599.0 109.0 L599.5 95.0 L600.0 104.9 L600.5 51.0 L601.0 102.6 L601.5 39.6 L602.0 101.0 L602.5 46.4 L603.0 83.2 L603.5 35.0 L604.0 80.7 L604.5 47.9 L605.0 95.0 L605.5 51.2 L606.0 102.0 L606.5 45.0 L607.0 92.2 L607.5 29.0 L608.0 93.0 L608.5 16.0 L609.0 89.2 L609.5 29.0 L610.0 96.1 L610.5 45.0 L611.0 97.9 L611.5 43.2 L612.0 100.0 L612.5 46.7 L613.0 93.3 L613.5 41.0 L614.0 91.0 L614.5 49.8 L615.0 95.3 L615.5 47.6 L616.0 91.0 L616.5 49.0 L617.0 89.3 L617.5 49.7 L618.0 90.3 L618.5 47.7 L619.0 91.3 L619.5 45.7 L620.0 95.0 L620.5 41.0 L621.0 86.9 L621.5 46.6 L622.0 85.4 L622.5 44.8 L623.0 83.9 L623.5 45.0 L624.0 89.0 L624.5 37.0 L625.0 81.0 L625.5 29.0 L626.0 82.0 L626.5 35.3 L627.0 83.0 L627.5 38.0 L628.0 93.0 L628.5 45.0 L629.0 87.1 L629.5 49.4 L630.0 81.0 L630.5 50.0 L631.0 78.2 L631.5 47.0 L632.0 78.8 L632.5 42.5 L633.0 79.4 L633.5 43.0 L634.0 86.9 L634.5 37.0 L635.0 87.6 L635.5 42.6 L636.0 85.0 L636.5 43.6 L637.0 82.1 L637.5 44.6 L638.0 82.6 L638.5 41.0 L639.0 85.5 L639.5 43.7 L640.0 87.0 L640.5 41.5 L641.0 71.3 L641.5 39.2 L642.0 72.5 L642.5 32.0 L643.0 73.7 L643.5 32.8 L644.0 92.0 L644.5 40.6 L645.0 93.0 L645.5 41.3 L646.0 88.7 L646.5 35.0 L647.0 87.9 L647.5 47.5 L648.0 87.1 L648.5 51.0 L649.0 89.7 L649.5 55.5 L650.0 89.0 L650.5 55.7 L651.0 81.7 L651.5 55.9 L652.0 83.4 L652.5 56.0 L653.0 93.0 L653.5 49.6 L654.0 103.0 L654.5 52.0 L655.0 99.4 L655.5 51.5 L656.0 93.0 L656.5 49.5 L657.0 90.3 L657.5 45.0 L658.0 93.0 L658.5 49.1 L659.0 91.0 L659.5 51.4 L660.0 94.2 L660.5 51.0 L661.0 89.4 L661.5 52.1 L662.0 90.1 L662.5 50.8 L663.0 90.8 L663.5 46.4 L664.0 97.0 L664.5 46.0 L665.0 93.9 L665.5 61.6 L666.0 93.9 L666.5 62.8 L667.0 97.0 L667.5 51.4 L668.0 98.2 L668.5 51.0 L669.0 106.0 L669.5 52.8 L670.0 99.8 L670.5 50.8 L671.0 95.0 L671.5 48.8 L672.0 90.6 L672.5 43.0 L673.0 89.9 L673.5 48.1 L674.0 93.0 L674.5 44.3 L675.0 92.4 L675.5 30.0 L676.0 80.6 L676.5 31.9 L677.0 80.6 L677.5 33.8 L678.0 80.7 L678.5 35.0 L679.0 91.0 L679.5 13.0 L680.0 92.0 L680.5 25.0 L681.0 93.2 L681.5 32.9 L682.0 83.8 L682.5 41.0 L683.0 95.0 L683.5 49.3 L684.0 105.0 L684.5 52.7 L685.0 90.2 L685.5 52.0 L686.0 95.0 L686.5 55.2 L687.0 87.9 L687.5 53.1 L688.0 93.0 L688.5 66.3 L689.0 85.7 L689.5 66.7 L690.0 84.4 L690.5 54.0 L691.0 83.1 L691.5 65.9 L692.0 87.6 L692.5 65.1 L693.0 82.6 L693.5 52.2 L694.0 85.0 L694.5 51.7 L695.0 80.4 L695.5 52.7 L696.0 83.2 L696.5 51.0 L697.0 82.2 L697.5 52.1 L698.0 81.0 L698.5 52.0 L699.0 79.0 L699.5 52.4 L700.0 81.1 L700.5 52.4 L701.0 88.2 L701.5 52.2 L702.0 91.0 L702.5 50.0 L703.0 87.5 L703.5 56.7 L704.0 86.5 L704.5 57.2 L705.0 88.1 L705.5 57.7 L706.0 83.6 L706.5 53.6 L707.0 82.7 L707.5 54.0 L708.0 85.0 L708.5 53.0 L709.0 86.5 L709.5 53.8 L710.0 83.8 L710.5 52.3 L711.0 85.2 L711.5 48.0 L712.0 86.6 L712.5 47.0 L713.0 92.0 L713.5 48.4 L714.0 92.8 L714.5 48.1 L715.0 84.5 L715.5 45.9 L716.0 83.1 L716.5 46.0 L717.0 81.7 L717.5 51.9 L718.0 85.0 L718.5 52.9 L719.0 86.5 L719.5 53.9 L720.0 88.5 L720.5 50.0 L721.0 89.1 L721.5 50.3 L722.0 91.1 L722.5 49.3 L723.0 95.0 L723.5 48.3 L724.0 88.8 L724.5 46.0 L725.0 85.5 L725.5 46.6 L726.0 81.0 L726.5 47.1 L727.0 77.2 L727.5 49.5 L728.0 76.3 L728.5 49.9 L729.0 75.5 L729.5 50.3 L730.0 77.0 L730.5 49.0 L731.0 79.0 L731.5 48.5 L732.0 79.7 L732.5 47.8 L733.0 82.1 L733.5 49.4 L734.0 86.5 L734.5 48.7 L735.0 81.9 L735.5 45.7 L736.0 80.4 L736.5 51.4 L737.0 77.5 L737.5 50.7 L738.0 75.7 L738.5 44.0 L739.0 77.2 L739.5 50.3 L740.0 78.8 L740.5 43.6 L741.0 83.5 L741.5 45.4 L742.0 85.9 L742.5 45.1 L743.0 85.5 L743.5 44.9 L744.0 89.5 L744.5 42.5 L745.0 91.9 L745.5 43.1 L746.0 95.5 L746.5 45.3 L747.0 86.5 L747.5 45.8 L748.0 80.8 L748.5 46.3 L749.0 82.0 L749.5 47.1 L750.0 80.0 L750.5 44.8 L751.0 82.7 L751.5 35.0 L752.0 83.5 L752.5 25.2 L753.0 68.2 L753.5 31.2 L754.0 64.7 L754.5 39.4 L755.0 73.0 L755.5 32.0 L756.0 66.5 L756.5 26.0 L757.0 66.2 L757.5 21.5 L758.0 67.3 L758.5 28.4 L759.0 70.0 L759.5 26.0 L760.0 69.4 L760.5 27.5 L761.0 72.2 L761.5 42.5 L762.0 78.2 L762.5 48.5 L763.0 76.1 L763.5 46.7 L764.0 66.6 L764.5 42.5 L765.0 73.8 L765.5 27.5 L766.0 69.4 L766.5 45.7 L767.0 82.0 L767.5 38.0 L768.0 89.5 L768.5 47.0 L769.0 87.5 L769.5 33.5 L770.0 100.0 L770.5 42.5 L771.0 92.7 L771.5 48.5 L772.0 103.8 L772.5 41.0 L773.0 91.5 L773.5 41.3 L774.0 88.0 L774.5 35.0 L775.0 67.9 L775.5 30.8 L776.0 64.0 L776.5 29.0 L777.0 56.3 L777.5 32.7 L778.0 62.0 L778.5 32.3 L779.0 62.5 L779.5 27.5 L780.0 69.7 L780.5 31.5 L781.0 79.0" fill="none" stroke="#0000ff" stroke-width="1.9" stroke-linejoin="round"/>
</g>
<g>
<rect x="71.2" y="292.2" width="307.1" height="213.0" fill="none" stroke="#1c1c1c" stroke-width="1.5"/>
<path d="M71.2 474.8 h7.0 M378.3 474.8 h-7.0 M71.2 444.4 h7.0 M378.3 444.4 h-7.0 M71.2 414.0 h7.0 M378.3 414.0 h-7.0 M71.2 383.5 h7.0 M378.3 383.5 h-7.0 M71.2 353.1 h7.0 M378.3 353.1 h-7.0 M71.2 322.7 h7.0 M378.3 322.7 h-7.0 M132.6 505.2 v-7.0 M132.6 292.2 v7.0 M194.1 505.2 v-7.0 M194.1 292.2 v7.0 M255.5 505.2 v-7.0 M255.5 292.2 v7.0 M316.9 505.2 v-7.0 M316.9 292.2 v7.0" stroke="#1c1c1c" stroke-width="1.3" fill="none"/>
<text x="61.6" y="512.2" text-anchor="end">0</text>
<text x="61.6" y="481.8" text-anchor="end">2</text>
<text x="61.6" y="451.4" text-anchor="end">4</text>
<text x="61.6" y="421.0" text-anchor="end">6</text>
<text x="61.6" y="390.5" text-anchor="end">8</text>
<text x="61.6" y="360.1" text-anchor="end">10</text>
<text x="61.6" y="329.7" text-anchor="end">12</text>
<text x="61.6" y="299.2" text-anchor="end">14</text>
<text x="73.4" y="528.5" text-anchor="middle">0</text>
<text x="134.8" y="528.5" text-anchor="middle">10</text>
<text x="196.3" y="528.5" text-anchor="middle">20</text>
<text x="257.7" y="528.5" text-anchor="middle">30</text>
<text x="319.1" y="528.5" text-anchor="middle">40</text>
<text x="380.5" y="528.5" text-anchor="middle">50</text>
<text transform="translate(224.3 553.4) scale(1.0 1)" class="ax" text-anchor="middle">time [ns]</text>
<text transform="translate(24.1 399.6) rotate(-90) scale(1.06 1.12)" text-anchor="middle">dist [Å]</text>
<polygon points="71.6,397.4 72.6,394.8 73.6,393.5 74.6,392.2 75.6,392.2 76.6,393.2 77.6,394.2 78.6,395.2 79.6,393.2 80.6,390.8 81.6,388.4 82.6,386.1 83.6,384.4 84.6,386.1 85.6,387.7 86.6,388.9 87.6,389.1 88.6,389.4 89.6,389.6 90.6,392.2 91.6,396.2 92.6,400.2 93.6,397.8 94.6,393.8 95.6,396.5 96.6,399.9 97.6,402.0 98.6,393.2 99.6,395.0 100.6,403.5 101.6,410.2 102.6,407.0 103.6,403.5 104.6,403.7 105.6,407.1 106.6,410.4 107.6,409.1 108.6,406.1 109.6,403.1 110.6,402.3 111.6,401.6 112.6,400.9 113.6,400.2 114.6,399.4 115.6,398.7 116.6,398.3 117.6,398.5 118.6,398.8 119.6,399.0 120.6,401.5 121.6,405.5 122.6,409.5 123.6,407.8 124.6,404.6 125.6,401.3 126.6,398.3 127.6,402.0 128.6,405.7 129.6,407.5 130.6,403.2 131.6,398.9 132.6,396.7 133.6,397.7 134.6,398.7 135.6,398.5 136.6,397.5 137.6,396.5 138.6,395.5 139.6,394.5 140.6,393.5 141.6,392.2 142.6,390.9 143.6,390.3 144.6,393.6 145.6,397.0 146.6,397.6 147.6,393.3 148.6,388.9 149.6,385.9 150.6,383.9 151.6,381.9 152.6,383.9 153.6,387.4 154.6,390.1 155.6,392.8 156.6,395.5 157.6,398.8 158.6,402.2 159.6,404.9 160.6,405.6 161.6,406.2 162.6,405.5 163.6,402.9 164.6,400.2 165.6,398.8 166.6,398.3 167.6,397.8 168.6,397.3 169.6,398.1 170.6,399.1 171.6,400.1 172.6,400.9 173.6,399.9 174.6,398.9 175.6,397.9 176.6,398.3 177.6,401.3 178.6,404.3 179.6,406.2 180.6,407.2 181.6,408.2 182.6,406.9 183.6,404.6 184.6,402.4 185.6,400.1 186.6,399.8 187.6,399.6 188.6,399.3 189.6,399.3 190.6,399.9 191.6,400.6 192.6,404.3 193.6,412.3 193.6,449.0 192.6,448.0 191.6,446.0 190.6,444.0 189.6,442.0 188.6,442.3 187.6,443.3 186.6,444.3 185.6,445.3 184.6,447.6 183.6,450.0 182.6,451.6 181.6,450.6 180.6,449.6 179.6,448.6 178.6,447.0 177.6,444.7 176.6,442.3 175.6,441.5 174.6,442.6 173.6,449.7 172.6,442.5 171.6,433.8 170.6,426.6 169.6,429.9 168.6,433.2 167.6,436.2 166.6,437.7 165.6,439.2 164.6,440.7 163.6,442.0 162.6,443.0 161.6,444.0 160.6,445.0 159.6,445.4 158.6,445.7 157.6,446.0 156.6,443.2 155.6,416.7 154.6,407.3 153.6,406.3 152.6,407.0 151.6,409.0 150.6,432.8 149.6,433.3 148.6,432.5 147.6,433.3 146.6,435.6 145.6,437.8 144.6,440.1 143.6,439.2 142.6,437.5 141.6,435.7 140.6,434.0 139.6,434.0 138.6,434.0 137.6,434.0 136.6,434.0 135.6,434.0 134.6,433.9 133.6,433.5 132.6,433.2 131.6,432.9 130.6,432.5 129.6,432.2 128.6,432.3 127.6,432.4 126.6,432.6 125.6,432.8 124.6,432.9 123.6,433.1 122.6,433.3 121.6,433.5 120.6,433.7 119.6,433.9 118.6,434.7 117.6,436.7 116.6,442.3 115.6,441.4 114.6,436.9 113.6,435.5 112.6,435.0 111.6,434.5 110.6,434.0 109.6,435.0 108.6,436.0 107.6,437.0 106.6,437.5 105.6,436.5 104.6,435.5 103.6,434.5 102.6,433.7 101.6,433.2 100.6,432.7 99.6,432.2 98.6,432.9 97.6,433.9 96.6,434.9 95.6,435.9 94.6,435.1 93.6,434.4 92.6,433.6 91.6,432.9 90.6,432.4 89.6,431.9 88.6,431.4 87.6,430.9 86.6,430.4 85.6,429.9 84.6,429.4 83.6,428.0 82.6,426.2 81.6,424.5 80.6,422.7 79.6,421.7 78.6,420.7 77.6,419.7 76.6,420.8 75.6,427.5 74.6,434.2 73.6,440.3 72.6,445.9 71.6,447.1" fill="#ffa500"/>
<path d="M71.6 391.2 L72.1 453.1 L72.6 389.4 L73.1 453.1 L73.6 391.4 L74.1 443.8 L74.6 386.1 L75.1 437.8 L75.6 385.6 L76.1 431.2 L76.6 390.0 L77.1 425.0 L77.6 391.0 L78.1 417.3 L78.6 389.4 L79.1 418.3 L79.6 389.9 L80.1 428.4 L80.6 387.4 L81.1 428.8 L81.6 383.8 L82.1 423.9 L82.6 384.6 L83.1 425.6 L83.6 378.1 L84.1 427.4 L84.6 380.5 L85.1 435.3 L85.6 382.1 L86.1 432.3 L86.6 382.8 L87.1 432.8 L87.6 386.4 L88.1 437.2 L88.6 386.6 L89.1 436.7 L89.6 386.9 L90.1 431.4 L90.6 383.8 L91.1 431.9 L91.6 395.3 L92.1 439.1 L92.6 395.0 L93.1 433.2 L93.6 397.0 L94.1 441.0 L94.6 387.5 L95.1 433.9 L95.6 390.7 L96.1 441.9 L96.6 405.0 L97.1 432.8 L97.6 396.9 L98.1 431.8 L98.6 398.4 L99.1 438.6 L99.6 383.8 L100.1 438.1 L100.6 396.9 L101.1 428.5 L101.6 404.4 L102.1 429.0 L102.6 404.3 L103.1 440.0 L103.6 400.9 L104.1 440.6 L104.6 395.9 L105.1 441.6 L105.6 400.8 L106.1 442.6 L106.6 404.1 L107.1 443.8 L107.6 405.3 L108.1 435.9 L108.6 406.3 L109.1 434.9 L109.6 396.9 L110.1 439.7 L110.6 402.4 L111.1 440.0 L111.6 396.2 L112.1 433.1 L112.6 395.0 L113.1 433.6 L113.6 398.2 L114.1 441.2 L114.6 397.5 L115.1 441.9 L115.6 396.7 L116.1 450.3 L116.6 392.2 L117.1 440.9 L117.6 389.1 L118.1 441.9 L118.6 389.4 L119.1 440.0 L119.6 397.6 L120.1 440.1 L120.6 393.1 L121.1 434.4 L121.6 404.1 L122.1 434.2 L122.6 404.4 L123.1 434.0 L123.6 406.8 L124.1 439.1 L124.6 403.5 L125.1 439.2 L125.6 400.3 L126.1 439.1 L126.6 392.2 L127.1 433.0 L127.6 396.6 L128.1 432.8 L128.6 400.3 L129.1 432.6 L129.6 402.5 L130.1 438.1 L130.6 400.4 L131.1 437.4 L131.6 396.1 L132.1 437.7 L132.6 390.3 L133.1 431.5 L133.6 391.7 L134.1 431.9 L134.6 397.4 L135.1 440.0 L135.6 393.1 L136.1 432.2 L136.6 396.2 L137.1 439.5 L137.6 390.3 L138.1 439.5 L138.6 389.2 L139.1 434.0 L139.6 388.2 L140.1 434.0 L140.6 387.5 L141.1 440.0 L141.6 394.2 L142.1 447.1 L142.6 392.8 L143.1 448.9 L143.6 383.8 L144.1 434.9 L144.6 388.3 L145.1 446.6 L145.6 391.6 L146.1 431.5 L146.6 393.1 L147.1 429.3 L147.6 390.4 L148.1 438.1 L148.6 386.1 L149.1 437.3 L149.6 380.9 L150.1 436.6 L150.6 382.6 L151.1 415.6 L151.6 380.6 L152.1 411.0 L152.6 375.3 L153.1 411.9 L153.6 381.9 L154.1 411.6 L154.6 388.0 L155.1 412.7 L155.6 388.6 L156.1 443.8 L156.6 389.4 L157.1 452.2 L157.6 403.5 L158.1 449.1 L158.6 406.8 L159.1 448.8 L159.6 398.8 L160.1 451.2 L160.6 400.0 L161.1 449.9 L161.6 416.2 L162.1 443.5 L162.6 400.6 L163.1 442.5 L163.6 412.8 L164.1 447.5 L164.6 394.6 L165.1 444.7 L165.6 393.1 L166.1 441.9 L166.6 397.0 L167.1 440.4 L167.6 396.5 L168.1 441.9 L168.6 391.2 L169.1 435.0 L169.6 391.9 L170.1 434.4 L170.6 392.9 L171.1 432.5 L171.6 402.4 L172.1 443.8 L172.6 395.0 L173.1 449.1 L173.6 402.2 L174.1 456.9 L174.6 393.2 L175.1 447.5 L175.6 392.2 L176.1 447.5 L176.6 391.2 L177.1 449.0 L177.6 406.2 L178.1 445.5 L178.6 400.4 L179.1 454.1 L179.6 399.7 L180.1 448.8 L180.6 415.7 L181.1 456.1 L181.6 416.7 L182.1 457.1 L182.6 402.5 L183.1 457.8 L183.6 398.6 L184.1 451.0 L184.6 399.5 L185.1 448.7 L185.6 394.1 L186.1 451.2 L186.6 396.9 L187.1 446.0 L187.6 396.7 L188.1 448.5 L188.6 396.7 L189.1 435.7 L189.6 393.1 L190.1 447.5 L190.6 401.0 L191.1 438.9 L191.6 401.7 L192.1 440.9 L192.6 395.0 L193.1 455.0 L193.6 407.4" fill="none" stroke="#ffa500" stroke-width="1.9" stroke-linejoin="round"/>
</g>
<g>
<rect x="474.1" y="292.2" width="307.1" height="213.0" fill="none" stroke="#1c1c1c" stroke-width="1.5"/>
<path d="M474.1 474.8 h7.0 M781.2 474.8 h-7.0 M474.1 444.4 h7.0 M781.2 444.4 h-7.0 M474.1 414.0 h7.0 M781.2 414.0 h-7.0 M474.1 383.5 h7.0 M781.2 383.5 h-7.0 M474.1 353.1 h7.0 M781.2 353.1 h-7.0 M474.1 322.7 h7.0 M781.2 322.7 h-7.0 M535.5 505.2 v-7.0 M535.5 292.2 v7.0 M596.9 505.2 v-7.0 M596.9 292.2 v7.0 M658.3 505.2 v-7.0 M658.3 292.2 v7.0 M719.8 505.2 v-7.0 M719.8 292.2 v7.0" stroke="#1c1c1c" stroke-width="1.3" fill="none"/>
<text x="464.4" y="512.2" text-anchor="end">0</text>
<text x="464.4" y="481.8" text-anchor="end">2</text>
<text x="464.4" y="451.4" text-anchor="end">4</text>
<text x="464.4" y="421.0" text-anchor="end">6</text>
<text x="464.4" y="390.5" text-anchor="end">8</text>
<text x="464.4" y="360.1" text-anchor="end">10</text>
<text x="464.4" y="329.7" text-anchor="end">12</text>
<text x="464.4" y="299.2" text-anchor="end">14</text>
<text x="476.2" y="528.5" text-anchor="middle">0</text>
<text x="537.7" y="528.5" text-anchor="middle">10</text>
<text x="599.1" y="528.5" text-anchor="middle">20</text>
<text x="660.5" y="528.5" text-anchor="middle">30</text>
<text x="722.0" y="528.5" text-anchor="middle">40</text>
<text x="783.4" y="528.5" text-anchor="middle">50</text>
<text transform="translate(627.1 553.4) scale(1.0 1)" class="ax" text-anchor="middle">time [ns]</text>
<text transform="translate(426.9 399.6) rotate(-90) scale(1.06 1.12)" text-anchor="middle">dist [Å]</text>
<polygon points="474.4,373.4 475.4,366.6 476.4,366.1 477.4,366.7 478.4,371.7 479.4,374.3 480.4,374.6 481.4,375.0 482.4,374.8 483.4,374.5 484.4,374.2 485.4,371.2 486.4,367.8 487.4,364.7 488.4,364.2 489.4,363.7 490.4,363.2 491.4,362.4 492.4,361.1 493.4,359.8 494.4,358.5 495.4,357.2 496.4,356.0 497.4,354.7 498.4,354.1 499.4,353.7 500.4,353.3 501.4,352.9 502.4,352.5 503.4,352.3 504.4,352.0 505.4,351.8 506.4,352.5 507.4,355.2 508.4,357.8 509.4,359.4 510.4,359.9 511.4,360.4 512.5,360.9 513.5,360.8 514.5,360.6 515.5,360.4 516.5,360.2 517.5,360.1 518.5,359.9 519.5,359.7 520.5,359.6 521.5,359.4 522.5,359.2 523.5,359.1 524.5,359.1 525.5,359.1 526.5,359.1 527.5,359.1 528.5,359.1 529.5,359.3 530.5,359.4 531.5,359.6 532.5,359.8 533.5,359.9 534.5,360.3 535.5,361.3 536.5,362.3 537.5,363.3 538.5,364.3 539.5,364.2 540.5,363.2 541.5,362.2 542.5,361.0 543.5,359.7 544.5,358.3 545.5,359.3 546.5,360.5 547.5,361.8 548.5,362.9 549.5,363.4 550.5,363.9 551.5,364.4 552.5,364.3 553.5,363.0 554.5,361.8 555.5,360.5 556.5,358.6 557.5,356.3 558.5,354.2 559.5,352.9 560.5,351.7 561.5,352.0 562.5,352.4 563.5,352.8 564.5,353.2 565.5,354.0 566.5,356.0 567.5,358.0 568.5,359.1 569.5,359.1 570.5,359.1 571.5,359.1 572.5,358.1 573.5,356.6 574.5,355.1 575.5,353.6 576.5,354.5 577.5,355.5 578.5,356.5 579.5,357.5 580.5,358.1 581.5,357.9 582.5,357.7 583.5,357.5 584.5,357.3 585.5,357.7 586.5,358.4 587.5,359.2 588.5,359.9 589.5,361.1 590.5,362.3 591.5,363.6 592.5,364.9 593.5,367.3 594.5,369.6 595.5,371.6 596.5,372.8 596.5,401.7 595.5,406.9 594.5,412.6 593.5,407.7 592.5,400.2 591.5,393.2 590.5,386.4 589.5,385.1 588.5,383.8 587.5,383.4 586.5,386.0 585.5,388.7 584.5,390.5 583.5,391.0 582.5,391.5 581.5,392.0 580.5,391.5 579.5,390.5 578.5,389.5 577.5,388.5 576.5,390.2 575.5,392.2 574.5,393.0 573.5,384.5 572.5,377.8 571.5,374.4 570.5,377.7 569.5,381.0 568.5,389.2 567.5,402.1 566.5,401.6 565.5,392.6 564.5,387.3 563.5,383.3 562.5,379.3 561.5,375.3 560.5,376.6 559.5,377.9 558.5,379.6 557.5,382.9 556.5,386.2 555.5,390.2 554.5,395.2 553.5,400.2 552.5,401.9 551.5,400.9 550.5,399.9 549.5,400.1 548.5,400.8 547.5,401.4 546.5,394.6 545.5,388.8 544.5,385.5 543.5,383.1 542.5,385.1 541.5,387.1 540.5,389.3 539.5,392.0 538.5,394.7 537.5,393.7 536.5,389.7 535.5,385.7 534.5,384.1 533.5,383.5 532.5,382.8 531.5,382.0 530.5,381.2 529.5,380.4 528.5,379.6 527.5,379.0 526.5,379.0 525.5,379.0 524.5,379.0 523.5,379.0 522.5,380.9 521.5,384.4 520.5,387.9 519.5,391.4 518.5,393.2 517.5,394.5 516.5,395.9 515.5,388.0 514.5,380.7 513.5,378.7 512.5,376.7 511.4,375.1 510.4,374.6 509.4,374.1 508.4,373.6 507.4,373.5 506.4,373.8 505.4,374.0 504.4,374.3 503.4,375.3 502.4,376.6 501.4,377.8 500.4,379.5 499.4,389.5 498.4,398.2 497.4,398.0 496.4,393.7 495.4,392.7 494.4,393.1 493.4,395.3 492.4,397.6 491.4,399.8 490.4,400.4 489.4,400.1 488.4,399.9 487.4,399.6 486.4,401.9 485.4,406.1 484.4,411.2 483.4,406.2 482.4,402.2 481.4,399.4 480.4,398.8 479.4,398.1 478.4,410.8 477.4,444.8 476.4,454.0 475.4,454.0 474.4,454.0" fill="#00ff00"/>
<path d="M474.4 367.4 L474.9 455.1 L475.4 361.0 L475.9 455.1 L476.4 360.2 L476.9 460.0 L477.4 359.7 L477.9 445.0 L478.4 365.8 L478.9 403.8 L479.4 368.1 L479.9 401.0 L480.4 377.1 L480.9 401.7 L481.4 377.4 L481.9 405.6 L482.4 369.1 L482.9 409.9 L483.4 368.9 L483.9 411.2 L484.4 368.1 L484.9 417.8 L485.4 365.6 L485.9 409.4 L486.4 383.0 L486.9 403.3 L487.4 358.8 L487.9 405.6 L488.4 379.4 L488.9 406.3 L489.4 378.9 L489.9 406.6 L490.4 357.9 L490.9 406.6 L491.4 356.9 L491.9 386.5 L492.4 368.5 L492.9 384.2 L493.4 367.2 L493.9 382.0 L494.4 353.1 L494.9 398.1 L495.4 364.7 L495.9 393.4 L496.4 345.7 L496.9 400.0 L497.4 348.4 L497.9 407.5 L498.4 352.3 L498.9 394.0 L499.4 351.9 L499.9 396.2 L500.4 351.5 L500.9 385.0 L501.4 351.1 L501.9 377.5 L502.4 346.6 L502.9 376.3 L503.4 346.0 L503.9 375.2 L504.4 349.4 L504.9 380.3 L505.4 349.1 L505.9 379.8 L506.4 345.6 L506.9 374.7 L507.4 352.1 L507.9 379.4 L508.4 352.3 L508.9 375.7 L509.4 353.1 L509.9 380.3 L510.4 356.0 L510.9 380.8 L511.4 356.5 L511.9 381.2 L512.5 355.0 L513.0 380.4 L513.5 357.3 L514.0 382.1 L514.5 355.8 L515.0 386.9 L515.5 355.7 L516.0 397.7 L516.5 358.9 L517.0 401.9 L517.5 354.1 L518.0 399.6 L518.5 358.6 L519.0 394.5 L519.5 358.4 L520.0 398.1 L520.5 353.3 L521.0 388.2 L521.5 359.4 L522.0 388.5 L522.5 358.8 L523.0 385.0 L523.5 353.1 L524.0 380.1 L524.5 353.9 L525.0 380.1 L525.5 353.9 L526.0 380.1 L526.5 355.5 L527.0 386.0 L527.5 355.5 L528.0 385.0 L528.5 353.1 L529.0 387.1 L529.5 355.7 L530.0 382.3 L530.5 353.2 L531.0 383.0 L531.5 353.4 L532.0 383.7 L532.5 353.6 L533.0 388.8 L533.5 359.2 L534.0 389.4 L534.5 354.1 L535.0 390.6 L535.5 360.6 L536.0 378.5 L536.5 358.0 L537.0 382.5 L537.5 364.2 L538.0 401.9 L538.5 365.2 L539.0 395.5 L539.5 358.8 L540.0 392.9 L540.5 364.2 L541.0 394.4 L541.5 355.9 L542.0 390.4 L542.5 355.9 L543.0 387.0 L543.5 356.6 L544.0 388.8 L544.5 352.2 L545.0 390.1 L545.5 356.3 L546.0 396.2 L546.5 357.5 L547.0 400.5 L547.5 359.1 L548.0 407.5 L548.5 356.9 L549.0 402.6 L549.5 360.3 L550.0 405.6 L550.5 360.8 L551.0 403.1 L551.5 361.3 L552.0 404.1 L552.5 358.8 L553.0 408.4 L553.5 357.4 L554.0 399.5 L554.5 359.8 L555.0 394.5 L555.5 358.5 L556.0 394.4 L556.5 354.1 L557.0 390.6 L557.5 354.3 L558.0 387.3 L558.5 348.4 L559.0 385.0 L559.5 351.4 L560.0 375.0 L560.5 345.6 L561.0 373.7 L561.5 350.4 L562.0 381.2 L562.5 348.3 L563.0 379.1 L563.5 348.7 L564.0 391.6 L564.5 352.2 L565.0 396.2 L565.5 347.5 L566.0 397.4 L566.5 355.0 L567.0 413.1 L567.5 357.0 L568.0 396.0 L568.5 353.1 L569.0 388.8 L569.5 359.2 L570.0 377.8 L570.5 358.6 L571.0 375.2 L571.5 358.0 L572.0 379.4 L572.5 353.1 L573.0 378.5 L573.5 350.3 L574.0 388.8 L574.5 354.4 L575.0 400.0 L575.5 347.5 L576.0 388.0 L576.5 353.8 L577.0 386.0 L577.5 350.1 L578.0 394.4 L578.5 351.1 L579.0 396.1 L579.5 355.0 L580.0 397.1 L580.5 352.2 L581.0 398.1 L581.5 355.5 L582.0 376.5 L582.5 351.6 L583.0 376.0 L583.5 351.4 L584.0 375.5 L584.5 357.9 L585.0 396.2 L585.5 351.2 L586.0 393.2 L586.5 359.0 L587.0 388.1 L587.5 359.7 L588.0 388.8 L588.5 354.1 L589.0 387.8 L589.5 360.1 L590.0 390.7 L590.5 361.3 L591.0 392.5 L591.5 362.6 L592.0 384.8 L592.5 358.8 L593.0 405.6 L593.5 365.9 L594.0 399.6 L594.5 368.3 L595.0 419.7 L595.5 365.3 L596.0 407.5 L596.5 369.3" fill="none" stroke="#00ff00" stroke-width="1.9" stroke-linejoin="round"/>
</g>
</svg>
</body>
</html>
